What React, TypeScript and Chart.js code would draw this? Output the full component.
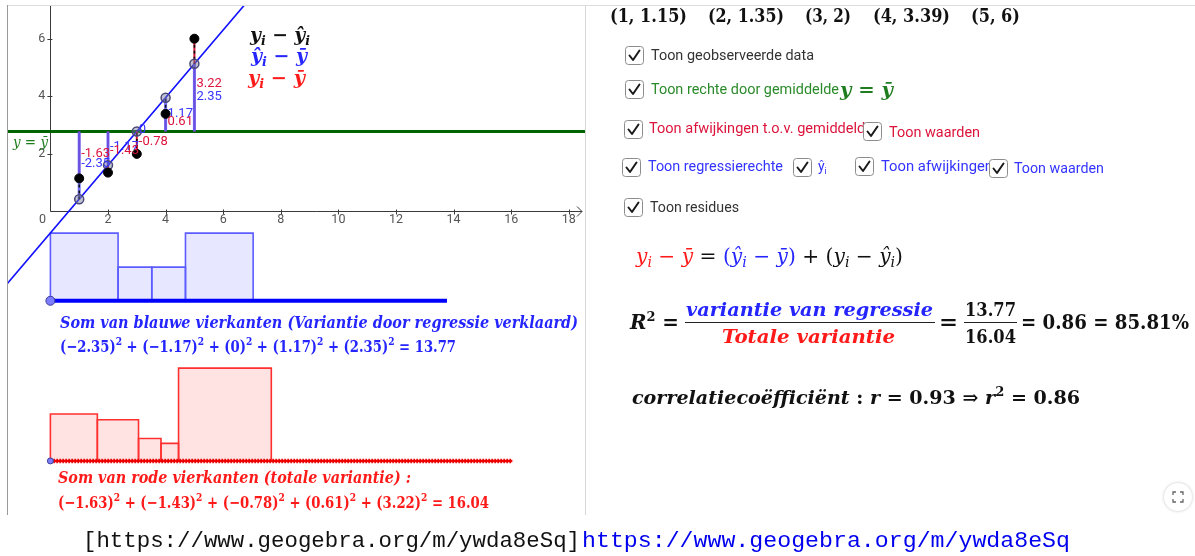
import React, { useEffect, useRef } from "react";
import { Chart, registerables } from "chart.js";

Chart.register(...registerables);

// ---------------- data ----------------
const xValues = [1, 2, 3, 4, 5];
const yValues = [1.15, 1.35, 2, 3.39, 6];
const totalDeviations = [-1.63, -1.43, -0.78, 0.61, 3.22]; // y_i - ybar
const explainedDeviations = [-2.35, -1.17, 0, 1.17, 2.35]; // yhat_i - ybar
const explainedSum = 13.77;
const totalSum = 16.04;
const rSquared = 0.86;
const rSquaredPercent = "85.81%";
const correlation = 0.93;
const xTickValues = [2, 4, 6, 8, 10, 12, 14, 16, 18];
const xTickLabels = ["2", "4", "6", "8", "10", "12", "14", "16", "18"];
const yTickValues = [2, 4, 6];
const yTickLabels = ["2", "4", "6"];

// ---------------- layout (not data) ----------------
const W = 1195;
const H = 556;
const VIEW = { left: 8, top: 6, right: 585, bottom: 515 };
const ORIGIN = { x: 50.4, y: 211.5 };
const UNIT = 28.8;
const X_MIN = (VIEW.left - ORIGIN.x) / UNIT;
const X_MAX = (VIEW.right - ORIGIN.x) / UNIT;
const Y_MAX = (ORIGIN.y - VIEW.top) / UNIT;
const Y_MIN = (ORIGIN.y - VIEW.bottom) / UNIT;
const BLUE_BASE = -3.1;
const RED_BASE = -8.66;

// ---------------- derived ----------------
const mean = yValues.reduce((a, b) => a + b, 0) / yValues.length;
const fitted = explainedDeviations.map((d) => mean + d);
const slope = (fitted[fitted.length - 1] - fitted[0]) / (xValues[xValues.length - 1] - xValues[0]);
const intercept = fitted[0] - slope * xValues[0];

const SERIF = '"DejaVu Serif", serif';
const SANS = 'Roboto, "Open Sans", sans-serif';
const BI = (s: number) => `italic bold ${s}px ${SERIF}`;
const B = (s: number) => `bold ${s}px ${SERIF}`;
const I = (s: number) => `italic ${s}px ${SERIF}`;
const RG = (s: number) => `${s}px ${SERIF}`;

const C_BLUE = "#2525ff";
const C_RED = "#ff1a1a";
const C_CRIMSON = "#dc143c";
const C_GREEN = "#1e7d1e";

type Seg = { t: string; font: string; color?: string; dy?: number };

function subSeg(t: string, s: number, f: (n: number) => string, c?: string): Seg {
  return { t, font: f(Math.round(s * 0.68)), dy: s * 0.22, color: c };
}
function supSeg(t: string, s: number, f: (n: number) => string, c?: string): Seg {
  return { t, font: f(Math.round(s * 0.66)), dy: -s * 0.42, color: c };
}
const mY = (s: number, f: (n: number) => string, c?: string): Seg[] => [
  { t: "y", font: f(s), color: c },
  subSeg("i", s, f, c),
];
const mYhat = (s: number, f: (n: number) => string, c?: string): Seg[] => [
  { t: "ŷ", font: f(s), color: c },
  subSeg("i", s, f, c),
];
const mYbar = (s: number, f: (n: number) => string, c?: string): Seg[] => [{ t: "ȳ", font: f(s), color: c }];
const op = (t: string, s: number, f: (n: number) => string, c?: string): Seg => ({ t, font: f(s), color: c });

function richWidth(ctx: CanvasRenderingContext2D, segs: Seg[]) {
  let w = 0;
  for (const s of segs) {
    ctx.font = s.font;
    w += ctx.measureText(s.t).width;
  }
  return w;
}

function drawRich(
  ctx: CanvasRenderingContext2D,
  segs: Seg[],
  x: number,
  y: number,
  target?: number,
  color = "#000",
  align: "left" | "center" = "left"
) {
  const w = richWidth(ctx, segs);
  const sx = target ? target / w : 1;
  ctx.save();
  ctx.translate(x, y);
  ctx.scale(sx, 1);
  let cx = align === "center" ? -w / 2 : 0;
  ctx.textAlign = "left";
  ctx.textBaseline = "alphabetic";
  for (const s of segs) {
    ctx.font = s.font;
    ctx.fillStyle = s.color ?? color;
    ctx.fillText(s.t, cx, s.dy ?? 0);
    cx += ctx.measureText(s.t).width;
  }
  ctx.restore();
}

function drawText(
  ctx: CanvasRenderingContext2D,
  t: string,
  x: number,
  y: number,
  font: string,
  color: string,
  target?: number
) {
  drawRich(ctx, [{ t, font, color }], x, y, target, color);
}

function checkbox(ctx: CanvasRenderingContext2D, x: number, y: number) {
  const s = 18;
  ctx.save();
  ctx.beginPath();
  (ctx as any).roundRect(x + 0.5, y + 0.5, s, s, 3);
  ctx.fillStyle = "#fff";
  ctx.fill();
  ctx.strokeStyle = "#8c8c8c";
  ctx.lineWidth = 1;
  ctx.stroke();
  ctx.beginPath();
  ctx.moveTo(x + 4.5, y + 9.5);
  ctx.lineTo(x + 8, y + 14);
  ctx.lineTo(x + 14.5, y + 4.5);
  ctx.strokeStyle = "#1a1a1a";
  ctx.lineWidth = 2;
  ctx.lineCap = "round";
  ctx.lineJoin = "round";
  ctx.stroke();
  ctx.restore();
}

const fmt = (v: number) => String(v);
const fmtMath = (v: number) => (v < 0 ? "−" + String(-v) : String(v));

function squares(sides: number[], base: number) {
  let x0 = 0;
  return sides.map((s) => {
    const a = Math.abs(s);
    const pts = [
      { x: x0, y: base },
      { x: x0, y: base + a },
      { x: x0 + a, y: base + a },
      { x: x0 + a, y: base },
    ];
    x0 += a;
    return pts;
  });
}

function segments(from: number[], to: number[]) {
  const out: any[] = [];
  xValues.forEach((x, i) => {
    out.push({ x, y: from[i] }, { x, y: to[i] }, { x, y: null });
  });
  return out;
}

function buildDatasets() {
  const list: any[] = [];
  const line = (data: any[], extra: any) => ({
    type: "line",
    data,
    pointRadius: 0,
    borderWidth: 1.5,
    fill: false,
    spanGaps: false,
    tension: 0,
    ...extra,
  });
  // blue squares
  squares(explainedDeviations, BLUE_BASE).forEach((pts) =>
    list.push(
      line(pts, {
        borderColor: "#5d5dff",
        borderWidth: 1.6,
        backgroundColor: "rgba(110,110,255,0.17)",
        fill: { value: BLUE_BASE },
      })
    )
  );
  // red squares
  squares(totalDeviations, RED_BASE).forEach((pts) =>
    list.push(
      line(pts, {
        borderColor: "#ff3030",
        borderWidth: 1.6,
        backgroundColor: "rgba(255,60,60,0.14)",
        fill: { value: RED_BASE },
      })
    )
  );
  // base lines
  list.push(line([{ x: 0, y: BLUE_BASE }, { x: explainedSum, y: BLUE_BASE }], { borderColor: "#0000ff", borderWidth: 4 }));
  list.push(line([{ x: 0, y: RED_BASE }, { x: totalSum, y: RED_BASE }], { borderColor: "#ff0000", borderWidth: 2.5 }));
  list.push(
    line([{ x: 0, y: RED_BASE }, { x: totalSum, y: RED_BASE }], {
      borderColor: "#e00000",
      borderWidth: 4.5,
      borderDash: [1.5, 1.5],
    })
  );
  // base starting points
  list.push(
    line(
      [
        { x: 0, y: BLUE_BASE },
        { x: 0, y: RED_BASE },
      ],
      {
        showLine: false,
        pointRadius: [4.5, 3],
        pointBackgroundColor: "#7d7dff",
        pointBorderColor: "#3a3a9a",
        pointBorderWidth: 1,
      }
    )
  );
  // mean line
  list.push(line([{ x: X_MIN - 1, y: mean }, { x: X_MAX + 1, y: mean }], { borderColor: "#006400", borderWidth: 3 }));
  // regression line
  list.push(
    line(
      [
        { x: -4, y: intercept + slope * -4 },
        { x: 12, y: intercept + slope * 12 },
      ],
      { borderColor: "#1010ff", borderWidth: 1.6 }
    )
  );
  // red deviations y - ybar
  list.push(line(segments(xValues.map(() => mean), yValues), { borderColor: "#d01030", borderWidth: 2 }));
  // blue deviations yhat - ybar
  list.push(line(segments(xValues.map(() => mean), fitted), { borderColor: "rgba(90,90,255,0.85)", borderWidth: 3 }));
  // residuals
  list.push(line(segments(yValues, fitted), { borderColor: "#111", borderWidth: 1.6, borderDash: [3, 3] }));
  // fitted points
  list.push(
    line(
      xValues.map((x, i) => ({ x, y: fitted[i] })),
      {
        showLine: false,
        pointRadius: 4.5,
        pointBackgroundColor: "rgba(120,120,150,0.45)",
        pointBorderColor: "#4a4a78",
        pointBorderWidth: 1.5,
      }
    )
  );
  // observed points
  list.push(
    line(
      xValues.map((x, i) => ({ x, y: yValues[i] })),
      {
        showLine: false,
        pointRadius: 4.5,
        pointBackgroundColor: "#000",
        pointBorderColor: "#000",
        pointBorderWidth: 1,
      }
    )
  );
  const n = list.length;
  return list.map((d, i) => ({ ...d, order: n - i }));
}

const axesPlugin = {
  id: "ggbAxes",
  beforeDatasetsDraw(chart: any) {
    const { ctx, scales } = chart;
    const xs = scales.x;
    const ys = scales.y;
    const ox = xs.getPixelForValue(0);
    const oy = ys.getPixelForValue(0);
    const right = xs.getPixelForValue(X_MAX) - 3;
    ctx.save();
    ctx.strokeStyle = "#3a3a3a";
    ctx.lineWidth = 1;
    ctx.beginPath();
    ctx.moveTo(ox, Math.round(oy) + 0.5);
    ctx.lineTo(right, Math.round(oy) + 0.5);
    ctx.moveTo(right - 5, Math.round(oy) - 4.5);
    ctx.lineTo(right, Math.round(oy) + 0.5);
    ctx.lineTo(right - 5, Math.round(oy) + 5.5);
    ctx.moveTo(Math.round(ox) + 0.5, oy);
    ctx.lineTo(Math.round(ox) + 0.5, ys.getPixelForValue(Y_MAX));
    xTickValues.forEach((v) => {
      const px = Math.round(xs.getPixelForValue(v)) + 0.5;
      ctx.moveTo(px, oy - 2);
      ctx.lineTo(px, oy + 3);
    });
    yTickValues.forEach((v) => {
      const py = Math.round(ys.getPixelForValue(v)) + 0.5;
      ctx.moveTo(ox - 3, py);
      ctx.lineTo(ox + 2, py);
    });
    ctx.stroke();
    ctx.fillStyle = "#555";
    ctx.font = `12.5px ${SANS}`;
    ctx.textBaseline = "middle";
    ctx.textAlign = "center";
    xTickValues.forEach((v, i) => ctx.fillText(xTickLabels[i], xs.getPixelForValue(v), oy + 8.5));
    ctx.fillText("0", ox - 8, oy + 8.5);
    ctx.textAlign = "right";
    yTickValues.forEach((v, i) => ctx.fillText(yTickLabels[i], ox - 5, ys.getPixelForValue(v)));
    ctx.restore();
  },
  afterDatasetsDraw(chart: any) {
    const { ctx, scales } = chart;
    const xs = scales.x;
    const ys = scales.y;
    ctx.save();
    // value labels next to the deviation segments
    ctx.font = `13px ${SANS}`;
    ctx.textAlign = "left";
    ctx.textBaseline = "alphabetic";
    xValues.forEach((x, i) => {
      const px = xs.getPixelForValue(x) + 2;
      ctx.fillStyle = "#3636ff";
      ctx.fillText(fmt(explainedDeviations[i]), px, ys.getPixelForValue((mean + fitted[i]) / 2) + 2);
    });
    xValues.forEach((x, i) => {
      const px = xs.getPixelForValue(x) + 2;
      ctx.fillStyle = C_CRIMSON;
      ctx.fillText(fmt(totalDeviations[i]), px, ys.getPixelForValue((mean + yValues[i]) / 2) + 2);
    });
    ctx.restore();

    // y = ybar label
    drawRich(
      ctx,
      [op("y", 15, I, C_GREEN), op(" = ", 15, RG, C_GREEN), ...mYbar(15, I, C_GREEN)],
      13,
      ys.getPixelForValue(mean) + 16,
      35
    );

    // legend
    drawRich(ctx, [...mY(18, BI, "#111"), op(" − ", 18, B, "#111"), ...mYhat(18, BI, "#111")], 250, 41, 60);
    drawRich(ctx, [...mYhat(18, BI, C_BLUE), op(" − ", 18, B, C_BLUE), ...mYbar(18, BI, C_BLUE)], 251, 62, 56);
    drawRich(ctx, [...mY(18, BI, C_RED), op(" − ", 18, B, C_RED), ...mYbar(18, BI, C_RED)], 248, 84, 57);

    // squares captions
    drawText(ctx, "Som van blauwe vierkanten (Variantie door regressie verklaard)", 60, 328, BI(16), C_BLUE, 518);
    const blueFormula: Seg[] = [];
    explainedDeviations.forEach((v, i) => {
      if (i > 0) blueFormula.push(op(" + ", 16, B, C_BLUE));
      blueFormula.push(op(`(${fmtMath(v)})`, 16, B, C_BLUE), supSeg("2", 16, B, C_BLUE));
    });
    blueFormula.push(op(` = ${explainedSum}`, 16, B, C_BLUE));
    drawRich(ctx, blueFormula, 60, 352, 396);

    drawText(ctx, "Som van rode vierkanten (totale variantie) :", 58, 483, BI(16), C_RED, 353);
    const redFormula: Seg[] = [];
    totalDeviations.forEach((v, i) => {
      if (i > 0) redFormula.push(op(" + ", 16, B, C_RED));
      redFormula.push(op(`(${fmtMath(v)})`, 16, B, C_RED), supSeg("2", 16, B, C_RED));
    });
    redFormula.push(op(` = ${totalSum}`, 16, B, C_RED));
    drawRich(ctx, redFormula, 58, 508, 431);
  },
  afterDraw(chart: any) {
    const { ctx } = chart;
    ctx.save();
    // frames
    ctx.strokeStyle = "#dcdcdc";
    ctx.lineWidth = 1;
    ctx.beginPath();
    ctx.moveTo(7, 5.5);
    ctx.lineTo(W, 5.5);
    ctx.stroke();
    ctx.strokeStyle = "#9a9a9a";
    ctx.beginPath();
    ctx.moveTo(7.5, 5);
    ctx.lineTo(7.5, 515);
    ctx.stroke();
    ctx.strokeStyle = "#d8d8d8";
    ctx.beginPath();
    ctx.moveTo(585.5, 5);
    ctx.lineTo(585.5, 515);
    ctx.stroke();
    ctx.restore();

    // data points list
    const groupX = [610, 708, 805, 873, 971];
    const groupW = [77, 76, 46, 77, 49];
    xValues.forEach((x, i) => {
      drawText(ctx, `(${x}, ${yValues[i]})`, groupX[i], 22, B(19), "#111", groupW[i]);
    });

    // checkboxes and labels
    checkbox(ctx, 625, 46);
    drawText(ctx, "Toon geobserveerde data", 651, 60, `14px ${SANS}`, "#333", 163);
    checkbox(ctx, 625, 80);
    drawText(ctx, "Toon rechte door gemiddelde", 651, 94, `14px ${SANS}`, "#2a8a2a", 188);
    drawRich(ctx, [op("y", 19, BI, C_GREEN), op(" = ", 19, B, C_GREEN), ...mYbar(19, BI, C_GREEN)], 840, 96, 53);
    checkbox(ctx, 624, 120);
    drawText(ctx, "Toon afwijkingen t.o.v. gemiddelde", 649, 133, `14px ${SANS}`, C_CRIMSON, 224);
    checkbox(ctx, 863, 122);
    drawText(ctx, "Toon waarden", 889, 137, `14px ${SANS}`, C_CRIMSON, 91);
    checkbox(ctx, 622, 158);
    drawText(ctx, "Toon regressierechte", 648, 171, `14px ${SANS}`, "#3333ff", 135);
    checkbox(ctx, 793, 158);
    drawRich(
      ctx,
      [
        { t: "ŷ", font: `14px ${SANS}`, color: "#3333ff" },
        { t: "i", font: `9px ${SANS}`, color: "#3333ff", dy: 3 },
      ],
      818,
      171
    );
    checkbox(ctx, 855, 157);
    drawText(ctx, "Toon afwijkingen", 881, 171, `14px ${SANS}`, "#3333ff", 112);
    checkbox(ctx, 989, 159);
    drawText(ctx, "Toon waarden", 1014, 173, `14px ${SANS}`, "#3333ff", 90);
    checkbox(ctx, 624, 198);
    drawText(ctx, "Toon residues", 650, 212, `14px ${SANS}`, "#333", 89);

    // decomposition formula
    drawRich(
      ctx,
      [
        ...mY(20, I, C_RED),
        op(" − ", 20, RG, C_RED),
        ...mYbar(20, I, C_RED),
        op(" = ", 20, RG, "#111"),
        op("(", 20, RG, C_BLUE),
        ...mYhat(20, I, C_BLUE),
        op(" − ", 20, RG, C_BLUE),
        ...mYbar(20, I, C_BLUE),
        op(")", 20, RG, C_BLUE),
        op(" + (", 20, RG, "#111"),
        ...mY(20, I, "#111"),
        op(" − ", 20, RG, "#111"),
        ...mYhat(20, I, "#111"),
        op(")", 20, RG, "#111"),
      ],
      636,
      263,
      267
    );

    // R^2 line
    drawRich(ctx, [op("R", 20, BI, "#111"), supSeg("2", 20, B, "#111"), op(" =", 20, B, "#111")], 630, 329, 49);
    drawText(ctx, "variantie van regressie", 686, 316, BI(19), C_BLUE, 247);
    drawText(ctx, "Totale variantie", 722, 343, BI(19), C_RED, 173);
    drawText(ctx, "=", 939, 329, B(20), "#111", 19);
    drawText(ctx, String(explainedSum), 965, 316, B(19), "#111", 51);
    drawText(ctx, String(totalSum), 965, 343, B(19), "#111", 51);
    drawText(ctx, `= ${rSquared} = ${rSquaredPercent}`, 1021, 329, B(20), "#111", 168);
    ctx.save();
    ctx.fillStyle = "#222";
    ctx.fillRect(685, 322, 250, 1);
    ctx.fillRect(964, 322, 53, 1);
    ctx.restore();

    // correlation line
    drawRich(
      ctx,
      [
        op("correlatiecoëfficiënt", 19, BI, "#111"),
        op(" : ", 19, B, "#111"),
        op("r", 19, BI, "#111"),
        op(` = ${correlation} ⇒ `, 19, B, "#111"),
        op("r", 19, BI, "#111"),
        supSeg("2", 19, B, "#111"),
        op(` = ${rSquared}`, 19, B, "#111"),
      ],
      632,
      404,
      448
    );

    // fullscreen button
    ctx.save();
    ctx.beginPath();
    ctx.arc(1178, 497, 14, 0, Math.PI * 2);
    ctx.fillStyle = "#fff";
    ctx.shadowColor = "rgba(0,0,0,0.25)";
    ctx.shadowBlur = 3;
    ctx.fill();
    ctx.shadowBlur = 0;
    ctx.strokeStyle = "#666";
    ctx.lineWidth = 1.3;
    const cx = 1178;
    const cy = 497;
    const d = 5;
    const l = 3;
    ctx.beginPath();
    ctx.moveTo(cx - d, cy - d + l);
    ctx.lineTo(cx - d, cy - d);
    ctx.lineTo(cx - d + l, cy - d);
    ctx.moveTo(cx + d - l, cy - d);
    ctx.lineTo(cx + d, cy - d);
    ctx.lineTo(cx + d, cy - d + l);
    ctx.moveTo(cx - d, cy + d - l);
    ctx.lineTo(cx - d, cy + d);
    ctx.lineTo(cx - d + l, cy + d);
    ctx.moveTo(cx + d - l, cy + d);
    ctx.lineTo(cx + d, cy + d);
    ctx.lineTo(cx + d, cy + d - l);
    ctx.stroke();
    ctx.restore();

    // URL line
    drawText(ctx, "[https://www.geogebra.org/m/ywda8eSq]", 83, 547, '22px "Liberation Mono", monospace', "#111", 497);
    drawText(ctx, "https://www.geogebra.org/m/ywda8eSq", 582, 547, '22px "Liberation Mono", monospace', "#0000ee", 488);
  },
};

export default function App() {
  const ref = useRef<HTMLCanvasElement>(null);
  useEffect(() => {
    if (!ref.current) return;
    const chart = new Chart(ref.current, {
      type: "line",
      data: { datasets: buildDatasets() },
      options: {
        animation: false,
        responsive: false,
        maintainAspectRatio: false,
        devicePixelRatio: 1,
        events: [],
        layout: {
          padding: {
            left: VIEW.left,
            top: VIEW.top,
            right: W - VIEW.right,
            bottom: H - VIEW.bottom,
          },
        },
        plugins: {
          legend: { display: false },
          tooltip: { enabled: false },
          title: { display: false },
        },
        scales: {
          x: { type: "linear", min: X_MIN, max: X_MAX, display: false },
          y: { type: "linear", min: Y_MIN, max: Y_MAX, display: false },
        },
      } as any,
      plugins: [axesPlugin],
    } as any);
    return () => chart.destroy();
  }, []);
  return (
    <div style={{ position: "fixed", left: 0, top: 0, width: W, height: H, background: "#fff" }}>
      <canvas ref={ref} width={W} height={H} style={{ display: "block", width: W, height: H }} />
    </div>
  );
}
